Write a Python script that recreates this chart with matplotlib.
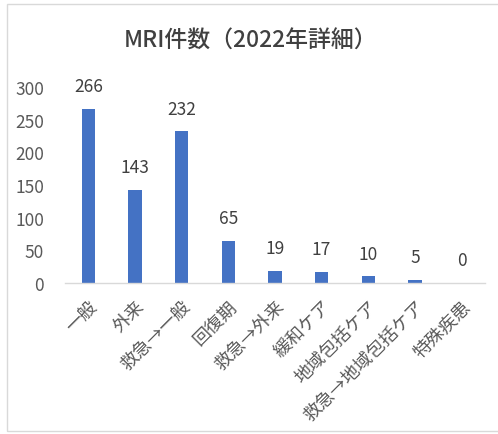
import matplotlib
matplotlib.use("Agg")
import matplotlib.pyplot as plt
from matplotlib.patches import Rectangle

plt.rcParams['font.family'] = ['Noto Sans CJK JP', 'DejaVu Sans']

categories = ["一般", "外来", "救急→一般", "回復期", "救急→外来", "緩和ケア",
              "地域包括ケア", "救急→地域包括ケア", "特殊疾患"]
values = [266, 143, 232, 65, 19, 17, 10, 5, 0]
yticks = [0, 50, 100, 150, 200, 250, 300]
title = "MRI件数（2022年詳細）"

W, H = 498, 435
fig = plt.figure(figsize=(W / 100, H / 100), dpi=100)
fig.patch.set_facecolor("white")
fig.patches.append(Rectangle((7 / W, 3 / H), 1.2, 1 - 8 / H, transform=fig.transFigure,
                             fill=False, edgecolor="#d9d9d9", linewidth=1))

ax = fig.add_axes([65 / W, 1 - 284 / H, 420 / W, 196 / H])
x = range(len(categories))
ax.bar(x, values, width=0.29, color="#4472C4")
ax.set_xlim(-0.5, len(categories) - 0.5)
ax.set_ylim(0, 300)
ax.set_yticks(yticks)
ax.set_xticks(list(x))
ax.set_xticklabels(categories, rotation=45, ha="right", rotation_mode="anchor",
                   fontsize=13, color="#595959")
ax.tick_params(axis="y", length=0, labelsize=12.5, labelcolor="#595959", pad=15)
ax.tick_params(axis="x", length=0, pad=10)
for s in ["top", "right", "left"]:
    ax.spines[s].set_visible(False)
ax.spines["bottom"].set_color("#d9d9d9")
ax.spines["bottom"].set_linewidth(1)

for xi, v in zip(x, values):
    ax.annotate(str(v), (xi, v), xytext=(0, 10), textcoords="offset points",
                ha="center", va="bottom", fontsize=12.5, color="#404040")

fig.text(251 / W, 1 - 41 / H, title, ha="center", va="center", fontsize=16.5,
         fontweight="medium", color="#404040")

fig.savefig("out.png", dpi=100)
